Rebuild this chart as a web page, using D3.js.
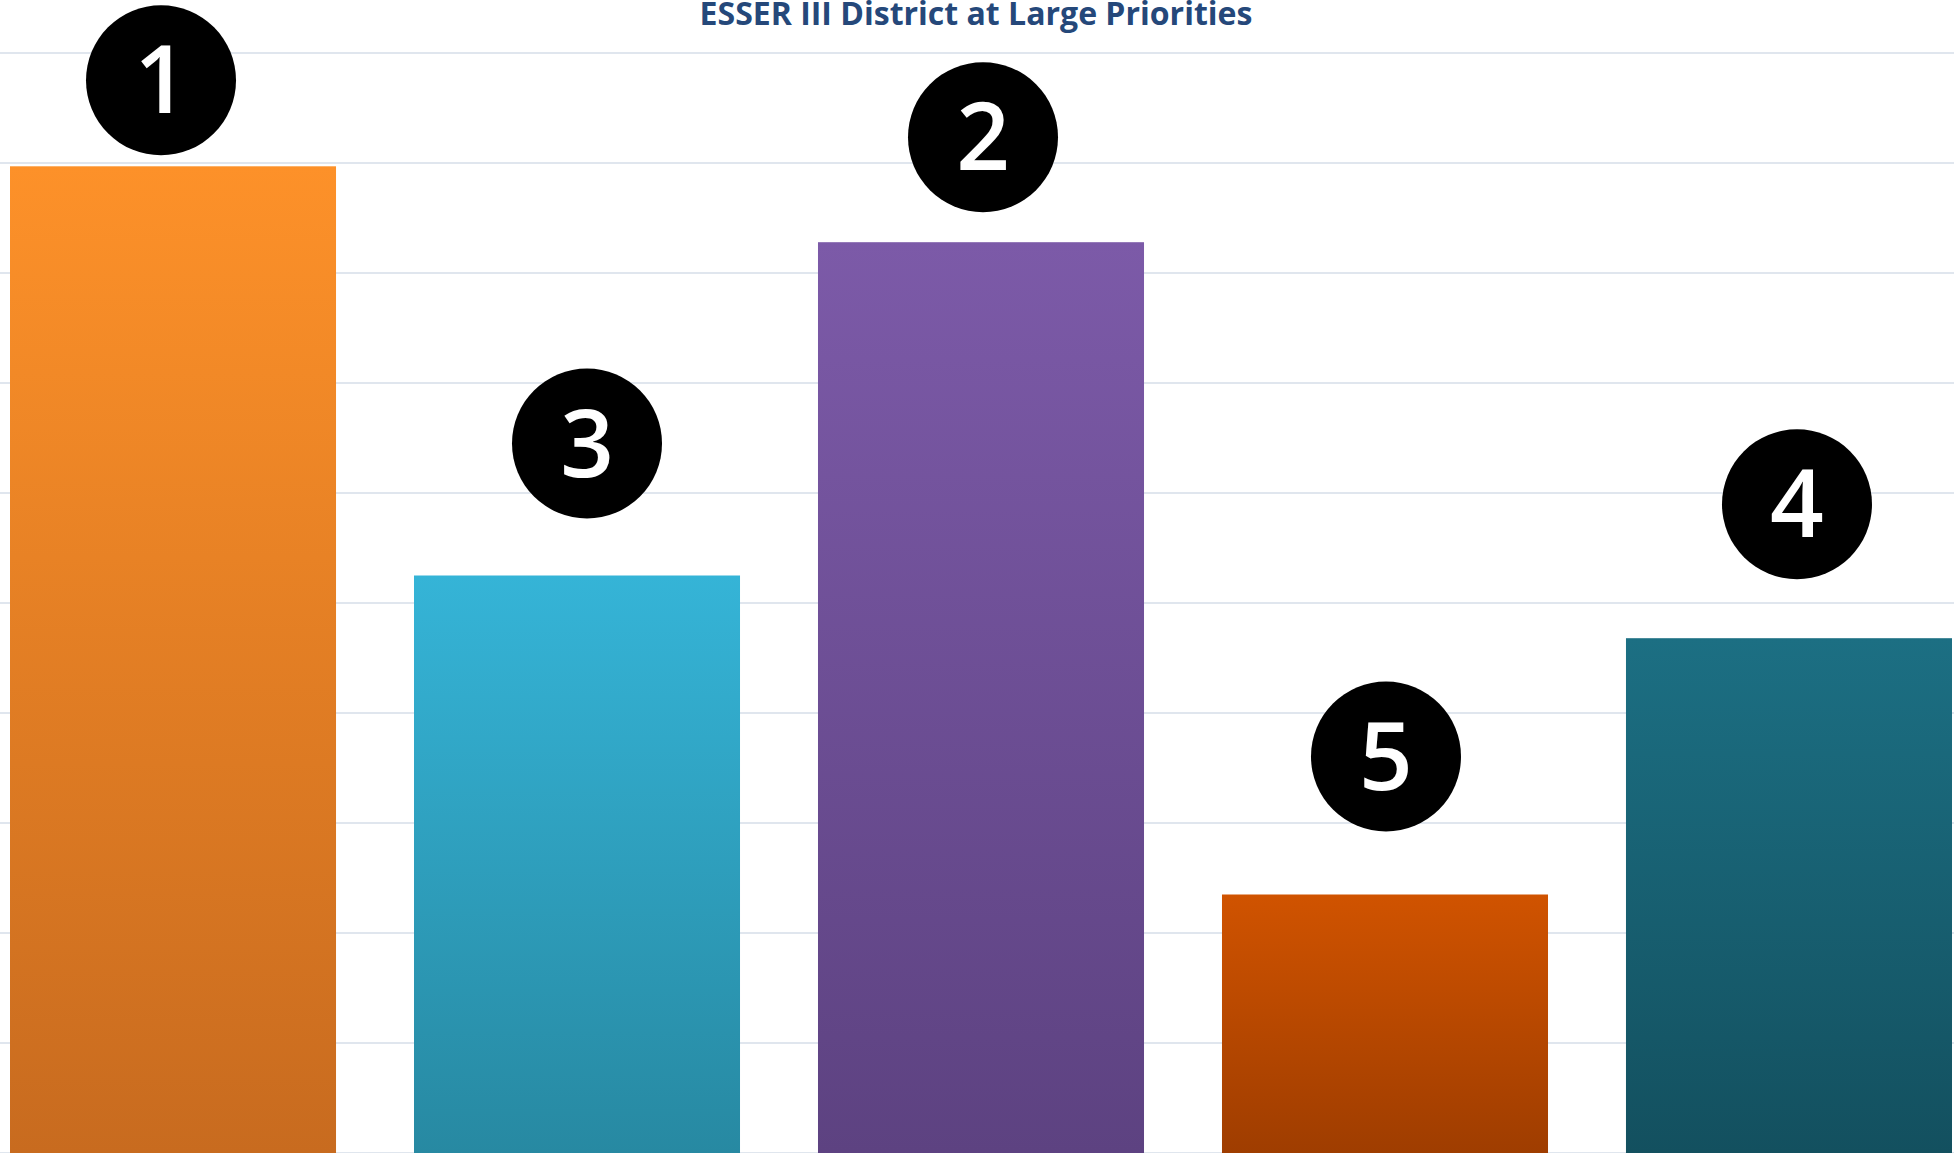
<!DOCTYPE html>
<html lang="en">
<head>
    <meta charset="UTF-8">
    <title>ESSER III District at Large Priorities</title>
    <script src="https://d3js.org/d3.v7.min.js"></script>
    <style>
        html, body {
            margin: 0;
            padding: 0;
            background: #fff;
            overflow: hidden;
        }
        #chart svg {
            display: block;
            font-family: "Open Sans", Arial, sans-serif;
        }
    </style>
</head>
<body>
<div id="chart"></div>

<script>
// chart data
var categories = ["Bar A", "Bar B", "Bar C", "Bar D", "Bar E"];
var values = [8.97, 5.25, 8.28, 2.35, 4.68];
var ranks = ["1", "3", "2", "5", "4"];
var gridTicks = [0, 1, 2, 3, 4, 5, 6, 7, 8, 9, 10];
var titleText = "ESSER III District at Large Priorities";

// gradient colours per bar (top, bottom)
var topColors = ["#fd9129", "#35b4d7", "#7c5aa8", "#d05300", "#1c6f83"];
var bottomColors = ["#c86b1f", "#2789a2", "#5d4281", "#9f3d00", "#13505f"];

// hand placed badges: lift of badge centre above bar top, and sideways shift
var badgeLift = [86, 132, 105, 138, 134];
var badgeShift = [-12, 10, 2, 1, 8];

document.addEventListener('DOMContentLoaded', function() {
    var width = 1954, height = 1153;

    var svg = d3.select("#chart").append("svg")
        .attr("width", width)
        .attr("height", height);

    var x = d3.scaleBand()
        .domain(categories)
        .range([10, 1952])
        .paddingInner(0.193)
        .paddingOuter(0);

    var y = d3.scaleLinear()
        .domain([0, 10])
        .range([1153, 53]);

    // gridlines
    svg.append("g")
        .selectAll("line")
        .data(gridTicks)
        .enter()
        .append("line")
        .attr("x1", 0)
        .attr("x2", width)
        .attr("y1", d => y(d))
        .attr("y2", d => y(d))
        .attr("stroke", "#e0e6ee")
        .attr("stroke-width", 2);

    // gradients
    var defs = svg.append("defs");
    categories.forEach(function(c, i) {
        var g = defs.append("linearGradient")
            .attr("id", "grad" + i)
            .attr("x1", 0).attr("y1", 0)
            .attr("x2", 0).attr("y2", 1);
        g.append("stop").attr("offset", "0%").attr("stop-color", topColors[i]);
        g.append("stop").attr("offset", "100%").attr("stop-color", bottomColors[i]);
    });

    // bars
    svg.append("g")
        .selectAll("rect")
        .data(values)
        .enter()
        .append("rect")
        .attr("x", (d, i) => x(categories[i]))
        .attr("y", d => y(d))
        .attr("width", x.bandwidth())
        .attr("height", d => y(0) - y(d))
        .style("fill", (d, i) => "url(#grad" + i + ")");

    // rank badges
    var badges = svg.append("g")
        .selectAll("g")
        .data(values)
        .enter()
        .append("g")
        .attr("transform", (d, i) =>
            `translate(${x(categories[i]) + x.bandwidth() / 2 + badgeShift[i]}, ${y(d) - badgeLift[i]})`);

    badges.append("circle")
        .attr("r", 75)
        .attr("fill", "#000");

    badges.append("text")
        .attr("text-anchor", "middle")
        .attr("y", 33)
        .attr("fill", "#fff")
        .style("font-size", "94px")
        .style("font-weight", 600)
        .text((d, i) => ranks[i]);

    // title sits right at the top edge
    var title = svg.append("text")
        .attr("x", 976)
        .attr("y", 25)
        .attr("text-anchor", "middle")
        .attr("fill", "#25487a")
        .style("font-size", "26px")
        .style("font-weight", 700)
        .text(titleText);

    var w = title.node().getComputedTextLength();
    if (w > 0) {
        title.style("font-size", (26 * 553 / w) + "px");
    }
});
</script>
</body>
</html>
